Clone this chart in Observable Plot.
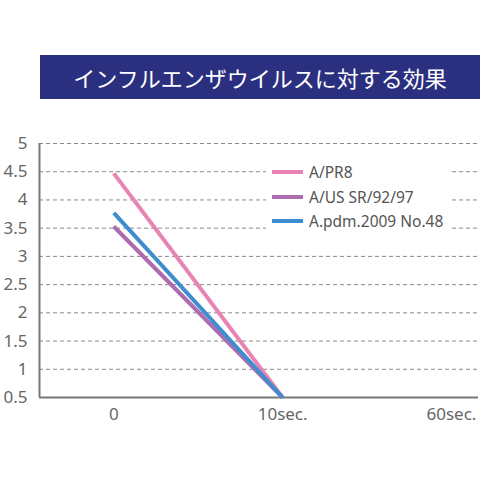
<!DOCTYPE html>
<html><head><meta charset="utf-8">
<script src="https://cdn.jsdelivr.net/npm/d3@7"></script>
<script src="https://cdn.jsdelivr.net/npm/@observablehq/plot@0.6"></script>
<style>
body{margin:0;background:#fff;width:480px;height:480px;overflow:hidden;position:relative;font-family:"Noto Sans",Lato,sans-serif;}
#title{position:absolute;left:40px;top:55px;width:440px;height:44px;background:#2b2f80;color:#fff;font-family:"Noto Sans CJK JP",sans-serif;font-size:22px;line-height:44px;text-align:center;}
#chart{position:absolute;left:0;top:130px;}
#chart svg text{font-size:17px !important;font-family:"Noto Sans",Lato,sans-serif !important;fill:#666;}
#legend{position:absolute;left:266px;top:160px;font-family:"Noto Sans",Lato,sans-serif;font-size:15.5px;color:#555;}
#legend div{height:24.5px;display:flex;align-items:center;background:#fff;padding:0 6px;}
#legend span.sw{display:inline-block;width:31px;height:4px;margin-right:6px;}
</style></head>
<body>
<div id="title">インフルエンザウイルスに対する効果</div>
<div id="chart"></div>
<div id="legend"></div>
<script>
const categories = ["0", "10sec.", "60sec."];
const seriesNames = ["A/PR8", "A/US SR/92/97", "A.pdm.2009 No.48"];
const seriesColors = ["#e983b3", "#ad6cae", "#3d8dcf"];
const valuesPR8 = [4.47, 0.5];
const valuesUS = [3.53, 0.5];
const valuesPdm = [3.77, 0.5];
const yTicks = [0.5, 1, 1.5, 2, 2.5, 3, 3.5, 4, 4.5, 5];

const allValues = [valuesPR8, valuesUS, valuesPdm];
const data = [];
allValues.forEach((vals, s) => vals.forEach((v, i) => data.push({series: seriesNames[s], xi: i, y: v})));

const xDomain = [-0.44, 2.16];
const chart = Plot.plot({
  width: 480, height: 300,
  marginLeft: 39, marginRight: 2, marginTop: 13, marginBottom: 33,
  style: {fontFamily: '"Noto Sans", Lato, sans-serif', fontSize: "17px", color: "#666", background: "transparent"},
  x: {domain: xDomain, ticks: [0, 1, 2], tickFormat: i => categories[i], tickSize: 0, tickPadding: 10, label: null},
  y: {domain: [0.5, 5], ticks: yTicks, tickSize: 0, tickPadding: 12, label: null, tickFormat: d => String(d)},
  color: {domain: seriesNames, range: seriesColors},
  marks: [
    Plot.gridY(yTicks.filter(t => t > 0.5), {stroke: "#888", strokeOpacity: 1, strokeDasharray: "4,3", strokeWidth: 1}),
    Plot.ruleY([0.5], {stroke: "#777", strokeWidth: 2}),
    Plot.ruleX([xDomain[0]], {stroke: "#777", strokeWidth: 2}),
    Plot.line(data, {x: "xi", y: "y", z: "series", stroke: "series", strokeWidth: 4, strokeLinecap: "butt"})
  ]
});
document.getElementById("chart").appendChild(chart);

const lg = document.getElementById("legend");
seriesNames.forEach((n, i) => {
  const d = document.createElement("div");
  d.innerHTML = `<span class="sw" style="background:${seriesColors[i]}"></span>${n}`;
  lg.appendChild(d);
});
</script>
</body></html>
